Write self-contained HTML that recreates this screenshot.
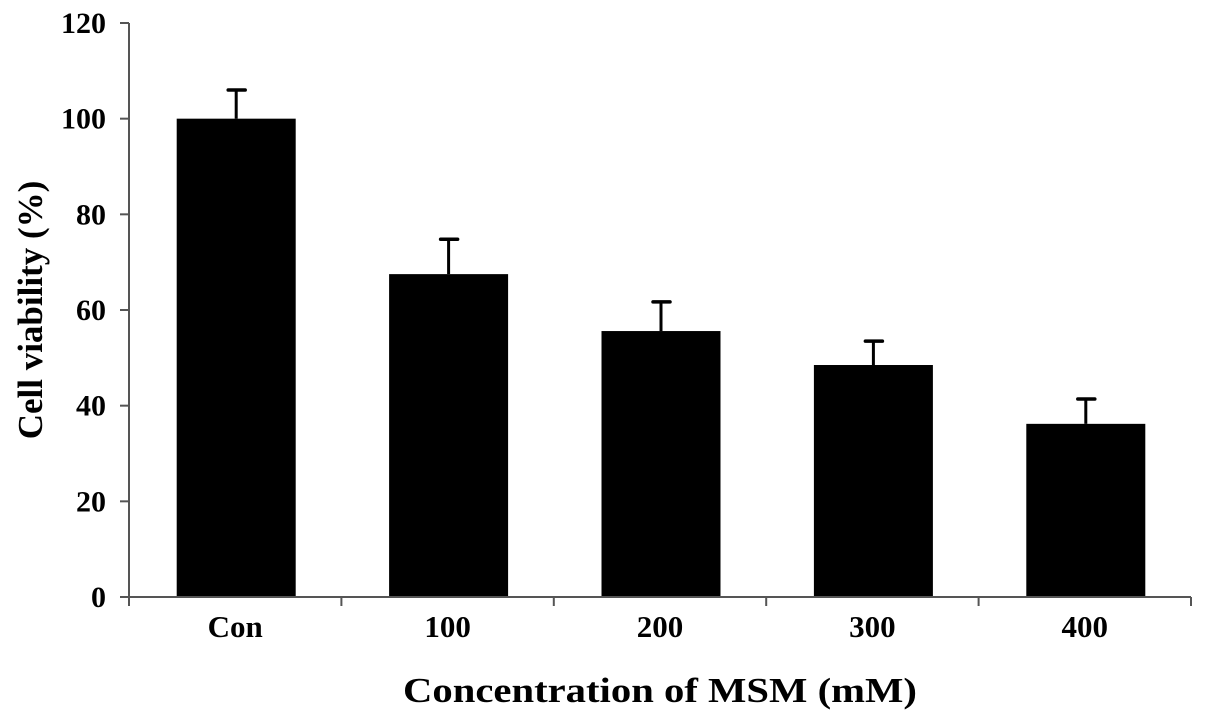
<!DOCTYPE html>
<html><head><meta charset="utf-8"><style>
body{margin:0;background:#fff;}
svg{display:block;font-family:"Liberation Serif",serif;font-weight:bold;}
</style></head><body>
<svg id="chart" width="1205" height="717" viewBox="0 0 1205 717" xmlns="http://www.w3.org/2000/svg">
<text transform="translate(42,310) rotate(-90)" text-anchor="middle" font-size="35">Cell viability (%)</text>
<text x="660" y="702" text-anchor="middle" font-size="35" textLength="514" lengthAdjust="spacingAndGlyphs">Concentration of MSM (mM)</text>
<g id="plot"></g>
</svg>
<script>
const categories = ["Con","100","200","300","400"];
const values = [100, 67.5, 55.6, 48.5, 36.2];
const errors = [6, 7.3, 6.1, 5, 5.2];
const yTicks = [0,20,40,60,80,100,120];
const X0=129, X1=1191, Y0=597, Ytop=23, YMAX=120;
const ns="http://www.w3.org/2000/svg";
const g=document.getElementById('plot');
const bw=(X1-X0)/categories.length;
const y=v=>Y0-(v/YMAX)*(Y0-Ytop);
const xc=i=>X0+bw*(i+0.5)+1;
function mk(t,a){const e=document.createElementNS(ns,t);for(const k in a)e.setAttribute(k,a[k]);g.appendChild(e);return e;}
categories.forEach((c,i)=>{
  const r=mk('rect',{x:xc(i)-59.5,y:y(values[i]),width:119,height:Y0-y(values[i]),fill:'#000'});
  
  
  const l=mk('line',{x1:xc(i),x2:xc(i),y1:y(values[i]),y2:y(values[i]+errors[i]),stroke:'#000','stroke-width':3});
  
  
  const cp=mk('line',{x1:xc(i)-8,x2:xc(i)+9,y1:y(values[i]+errors[i]),y2:y(values[i]+errors[i]),stroke:'#000','stroke-width':3.5,'stroke-linecap':'round'});
  
  
  const t=mk('text',{x:xc(i)-1,y:637,'text-anchor':'middle','font-size':31});
  t.textContent=c;
  
  
});
for(let i=0;i<=categories.length;i++){
  const t=mk('line',{x1:X0+bw*i,x2:X0+bw*i,y1:Y0,y2:Y0+9,stroke:'#555','stroke-width':2});
  
  
}
yTicks.forEach(v=>{
  const t=mk('line',{x1:X0-9,x2:X0,y1:y(v),y2:y(v),stroke:'#555','stroke-width':2});
  
  
  const l=mk('text',{x:106,y:y(v)+10,'text-anchor':'end','font-size':30});
  l.textContent=v;
  
  
});
const ya=mk('line',{x1:X0,x2:X0,y1:Ytop,y2:Y0,stroke:'#555','stroke-width':2});


const xa=mk('line',{x1:X0,x2:X1,y1:Y0,y2:Y0,stroke:'#555','stroke-width':2});


</script>
</body></html>
